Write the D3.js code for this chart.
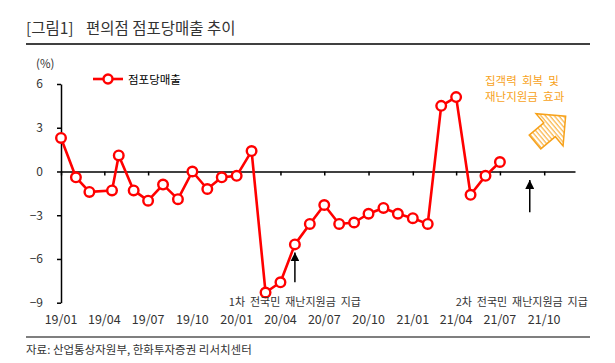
<!DOCTYPE html>
<html>
<head>
<meta charset="utf-8">
<script src="https://cdn.jsdelivr.net/npm/d3@7"></script>
<style>
body { margin: 0; background: #fff; }
svg text { font-family: "Noto Sans CJK KR", "Noto Sans", sans-serif; white-space: pre; }
</style>
</head>
<body>
<div id="chart"></div>
<script>
// 편의점 점포당매출 증감률 (%, YoY)
var dates = ["2019-01-01", "2019-02-01", "2019-03-01", "2019-04-17", "2019-05-01", "2019-06-01",
  "2019-07-01", "2019-08-01", "2019-09-01", "2019-10-01", "2019-11-01", "2019-12-01",
  "2020-01-01", "2020-02-01", "2020-03-01", "2020-04-01", "2020-05-01", "2020-06-01",
  "2020-07-01", "2020-08-01", "2020-09-01", "2020-10-01", "2020-11-01", "2020-12-01",
  "2021-01-01", "2021-02-01", "2021-03-01", "2021-04-01", "2021-05-01", "2021-06-01",
  "2021-07-01"];
var values = [2.3, -0.4, -1.4, -1.3, 1.1, -1.3,
  -2.0, -0.9, -1.9, 0.0, -1.2, -0.4,
  -0.3, 1.4, -8.3, -7.6, -5.0, -3.6,
  -2.3, -3.6, -3.5, -2.9, -2.5, -2.9,
  -3.2, -3.6, 4.5, 5.1, -1.6, -0.3,
  0.65];
var yTicks = [6, 3, 0, -3, -6, -9];
var seriesName = "점포당매출";

// 재난지원금 지급 시점 (화살표)
var eventDates = ["2020-05-01", "2021-09-01"];
var eventFrom = [-7.6, -2.8];
var eventTo = [-5.55, -0.58];
var eventLabels = ["1차  전국민  재난지원금  지급", "2차  전국민  재난지원금  지급"];

var parse = d3.timeParse("%Y-%m-%d");
var data = dates.map(function(d, i) { return { date: parse(d), value: values[i] }; });
var events = eventDates.map(function(d, i) {
  return { date: parse(d), from: eventFrom[i], to: eventTo[i], label: eventLabels[i] };
});

var width = 615, height = 363;
var red = "#ff0000", orange = "#f7a21b", ink = "#333";

var svg = d3.select("#chart").append("svg")
  .attr("width", width)
  .attr("height", height);

var x = d3.scaleTime()
  .domain([parse("2019-01-01"), parse("2021-12-04")])
  .range([61, 575]);

var y = d3.scaleLinear()
  .domain([-9, 6])
  .range([302.7, 84]);

// title
svg.append("text")
  .attr("x", 26).attr("y", 34)
  .style("font-size", "15.5px").style("fill", ink)
  .text("[그림1]");
svg.append("text")
  .attr("x", 86).attr("y", 34)
  .style("font-size", "15.5px").style("fill", ink)
  .text("편의점 점포당매출 추이");
svg.append("line")
  .attr("x1", 26).attr("x2", 590).attr("y1", 44).attr("y2", 44)
  .style("stroke", "#000").style("stroke-width", 1.5);

// y axis
var yAxis = svg.append("g")
  .attr("transform", "translate(" + x.range()[0] + ",0)")
  .call(d3.axisLeft(y).tickValues(yTicks).tickSize(4).tickSizeOuter(0).tickPadding(14));
yAxis.select(".domain").style("stroke", "#000").style("stroke-width", 1.5);
yAxis.selectAll(".tick line").style("stroke", "#000").style("stroke-width", 1.5);
yAxis.selectAll("text").style("font-size", "12px").style("fill", ink)
  .style("font-family", "\"Noto Sans CJK KR\", sans-serif");

svg.append("text")
  .attr("x", 36).attr("y", 68)
  .style("font-size", "11.5px").style("fill", ink)
  .text("(%)");

// x axis on zero line
var xAxis = svg.append("g")
  .attr("transform", "translate(0," + y(0) + ")")
  .call(d3.axisBottom(x).ticks(d3.timeMonth.every(3)).tickSize(4).tickSizeOuter(0).tickFormat(function() { return ""; }));
xAxis.select(".domain").style("stroke", "#000").style("stroke-width", 1.5);
xAxis.selectAll(".tick line").style("stroke", "#000").style("stroke-width", 1.5);

// x tick labels at the bottom
svg.append("g").selectAll("text")
  .data(x.ticks(d3.timeMonth.every(3)))
  .enter().append("text")
  .attr("x", function(d) { return x(d); })
  .attr("y", 324)
  .attr("text-anchor", "middle")
  .style("font-size", "12.5px").style("fill", ink)
  .text(d3.timeFormat("%y/%m"));

// series
var line = d3.line()
  .x(function(d) { return x(d.date); })
  .y(function(d) { return y(d.value); });

svg.append("path")
  .datum(data)
  .attr("d", line)
  .style("fill", "none")
  .style("stroke", red)
  .style("stroke-width", 2.6)
  .style("stroke-linejoin", "round");

svg.append("g").selectAll("circle")
  .data(data)
  .enter().append("circle")
  .attr("cx", function(d) { return x(d.date); })
  .attr("cy", function(d) { return y(d.value); })
  .attr("r", 4.8)
  .style("fill", "#fff")
  .style("stroke", red)
  .style("stroke-width", 2.4);

// legend
var legend = svg.append("g").attr("transform", "translate(93,79)");
legend.append("line")
  .attr("x1", 0).attr("x2", 30)
  .style("stroke", red).style("stroke-width", 2.6);
legend.append("circle")
  .attr("cx", 15).attr("r", 4.5)
  .style("fill", "#fff").style("stroke", red).style("stroke-width", 2.4);
legend.append("text")
  .attr("x", 35).attr("y", 4.5)
  .style("font-size", "11.5px").style("fill", "#000")
  .text(seriesName);

// event arrows
svg.append("defs").append("marker")
  .attr("id", "head")
  .attr("viewBox", "0 0 10 10")
  .attr("refX", 10).attr("refY", 5)
  .attr("markerWidth", 9).attr("markerHeight", 9)
  .attr("markerUnits", "userSpaceOnUse")
  .attr("orient", "auto")
  .append("path")
  .attr("d", "M0,0 L10,5 L0,10 Z")
  .style("fill", "#000");

var labelShift = [0, -8];
var ev = svg.append("g").selectAll("g")
  .data(events)
  .enter().append("g");
ev.append("line")
  .attr("x1", function(d) { return x(d.date); })
  .attr("x2", function(d) { return x(d.date); })
  .attr("y1", function(d) { return y(d.from); })
  .attr("y2", function(d) { return y(d.to); })
  .style("stroke", "#000").style("stroke-width", 1.5)
  .attr("marker-end", "url(#head)");
ev.append("text")
  .attr("x", function(d, i) { return x(d.date) + labelShift[i]; })
  .attr("y", 306)
  .attr("text-anchor", "middle")
  .style("font-size", "11px").style("fill", ink)
  .text(function(d) { return d.label; });

// orange note + hatched arrow
svg.append("text")
  .attr("x", 485).attr("y", 85)
  .style("font-size", "11.5px").style("fill", orange)
  .text("집객력  회복  및");
svg.append("text")
  .attr("x", 485).attr("y", 101)
  .style("font-size", "11.5px").style("fill", orange)
  .text("재난지원금  효과");

var pat = svg.select("defs").append("pattern")
  .attr("id", "hatch")
  .attr("patternUnits", "userSpaceOnUse")
  .attr("width", 3.4).attr("height", 10);
pat.append("line")
  .attr("x1", 1).attr("x2", 1).attr("y1", 0).attr("y2", 10)
  .style("stroke", orange).style("stroke-width", 1);

svg.append("path")
  .attr("transform", "translate(535,142) rotate(-40)")
  .attr("d", "M0,-9 L19,-9 L19,-21 L40,0 L19,21 L19,9 L0,9 Z")
  .style("fill", "url(#hatch)")
  .style("stroke", orange)
  .style("stroke-width", 1.5)
  .style("stroke-linejoin", "miter");

// source
svg.append("line")
  .attr("x1", 26).attr("x2", 590).attr("y1", 337).attr("y2", 337)
  .style("stroke", "#000").style("stroke-width", 1.2);
svg.append("text")
  .attr("x", 26).attr("y", 354)
  .style("font-size", "11.5px").style("fill", ink)
  .text("자료: 산업통상자원부, 한화투자증권 리서치센터");
</script>
</body>
</html>
